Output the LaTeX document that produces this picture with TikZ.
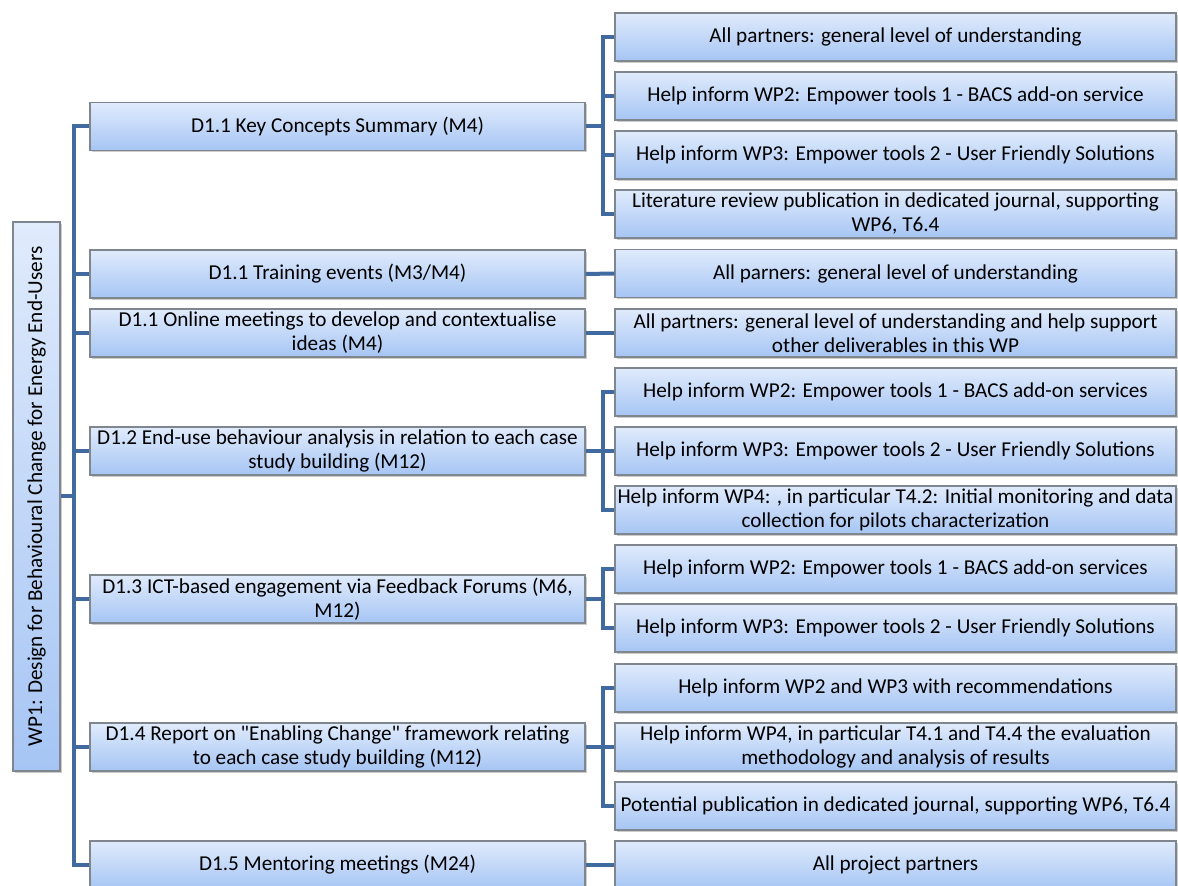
\documentclass[tikz,border=0pt]{standalone}
\usepackage{fontspec}
\setmainfont{Carlito}[Ligatures=TeXOff]
\usetikzlibrary{shadows}
\definecolor{wpline}{RGB}{64,106,160}
\definecolor{wptop}{RGB}{224,235,252}
\definecolor{wpbottom}{RGB}{166,197,244}
\definecolor{wpedge}{RGB}{128,134,142}

\begin{document}
\begin{tikzpicture}[x=0.5pt,y=-0.5pt,every node/.style={font=\fontsize{10.6}{12}\selectfont},
box/.style={draw=wpedge,line width=0.6pt,top color=wptop,bottom color=wpbottom,align=center,inner sep=1pt,minimum height=24pt,
  drop shadow={shadow xshift=1pt,shadow yshift=-1pt,opacity=0.4}},
deliv/.style={box,minimum width=247.5pt},
leaf/.style={box,minimum width=280.5pt},
link/.style={draw=wpline,line width=2pt}]
\useasboundingbox (0,0) rectangle (1178,886);
\begin{scope}
\clip (0,0) rectangle (1178,886);
\node[box,rotate=90,minimum width=274.5pt,minimum height=23.5pt] (wp) at (36.5,496.5) {WP1: Design for Behavioural Change for Energy End-Users};
% deliverables
\node[deliv] (key) at (337.5,126.5) {D1.1 Key Concepts Summary (M4)};
\node[deliv] (train) at (337.5,274) {D1.1 Training events (M3/M4)};
\node[deliv] (online) at (337.5,333) {D1.1 Online meetings to develop and contextualise\\ideas (M4)};
\node[deliv] (enduse) at (337.5,451) {D1.2 End-use behaviour analysis in relation to each case\\study building (M12)};
\node[deliv] (ict) at (337.5,599) {D1.3 ICT-based engagement via Feedback Forums (M6,\\M12)};
\node[deliv] (frame) at (337.5,747) {D1.4 Report on "Enabling Change" framework relating\\to each case study building (M12)};
\node[deliv] (mentor) at (337.5,865) {D1.5 Mentoring meetings (M24)};
% outcomes
\node[leaf] (key1) at (895.5,37) {All partners: general level of understanding};
\node[leaf] (key2) at (895.5,96) {Help inform WP2: Empower tools 1 - BACS add-on service};
\node[leaf] (key3) at (895.5,155) {Help inform WP3: Empower tools 2 - User Friendly Solutions};
\node[leaf] (key4) at (895.5,214) {Literature review publication in dedicated journal, supporting\\WP6, T6.4};
\node[leaf] (train1) at (895.5,273.5) {All parners: general level of understanding};
\node[leaf] (online1) at (895.5,333) {All partners: general level of understanding and help support\\other deliverables in this WP};
\node[leaf] (enduse1) at (895.5,392) {Help inform WP2: Empower tools 1 - BACS add-on services};
\node[leaf] (enduse2) at (895.5,451) {Help inform WP3: Empower tools 2 - User Friendly Solutions};
\node[leaf] (enduse3) at (895.5,510) {Help inform WP4: , in particular T4.2: Initial monitoring and data\\collection for pilots characterization};
\node[leaf] (ict1) at (895.5,569) {Help inform WP2: Empower tools 1 - BACS add-on services};
\node[leaf] (ict2) at (895.5,628) {Help inform WP3: Empower tools 2 - User Friendly Solutions};
\node[leaf] (frame1) at (895.5,688) {Help inform WP2 and WP3 with recommendations};
\node[leaf] (frame2) at (895.5,747) {Help inform WP4, in particular T4.1 and T4.4 the evaluation\\methodology and analysis of results};
\node[leaf] (frame3) at (895.5,806) {Potential publication in dedicated journal, supporting WP6, T6.4};
\node[leaf] (mentor1) at (895.5,865) {All project partners};
% trunk
\draw[link] (wp.south) -- ++(13,0) coordinate (trunk);
\draw[link] (trunk) |- (key.west);
\draw[link] (trunk) |- (train.west);
\draw[link] (trunk) |- (online.west);
\draw[link] (trunk) |- (enduse.west);
\draw[link] (trunk) |- (ict.west);
\draw[link] (trunk) |- (frame.west);
\draw[link] (trunk) |- (mentor.west);
% branches
\draw[link] (key.east) -- ++(17,0) coordinate (keybus);
\draw[link] (keybus) |- (key1.west);
\draw[link] (keybus) |- (key2.west);
\draw[link] (keybus) |- (key3.west);
\draw[link] (keybus) |- (key4.west);
\draw[link] (train.east) -- (train1.west);
\draw[link] (online.east) -- (online1.west);
\draw[link] (enduse.east) -- ++(17,0) coordinate (endbus);
\draw[link] (endbus) |- (enduse1.west);
\draw[link] (endbus) |- (enduse2.west);
\draw[link] (endbus) |- (enduse3.west);
\draw[link] (ict.east) -- ++(17,0) coordinate (ictbus);
\draw[link] (ictbus) |- (ict1.west);
\draw[link] (ictbus) |- (ict2.west);
\draw[link] (frame.east) -- ++(17,0) coordinate (framebus);
\draw[link] (framebus) |- (frame1.west);
\draw[link] (framebus) |- (frame2.west);
\draw[link] (framebus) |- (frame3.west);
\draw[link] (mentor.east) -- (mentor1.west);
\end{scope}
\end{tikzpicture}
\end{document}
